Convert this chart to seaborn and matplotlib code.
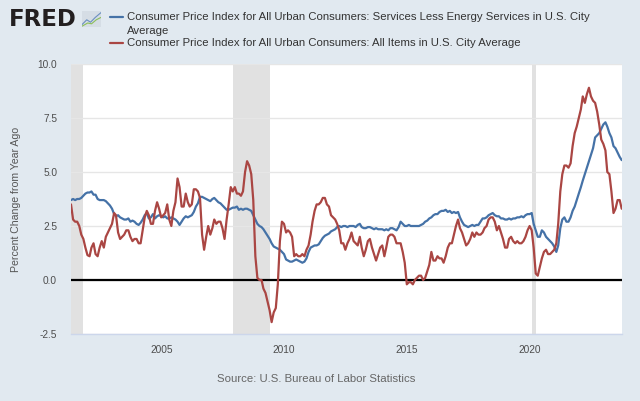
import matplotlib
matplotlib.use("Agg")
import matplotlib.pyplot as plt
from matplotlib.lines import Line2D
import seaborn as sns
import pandas as pd

# ---------------- data (monthly, May 2001 - Oct 2023) ----------------
start_month = "2001-05-01"
end_month = "2023-10-01"

cpi_all_items = [
    3.5, 2.8, 2.7, 2.7, 2.5, 2.1, 1.9, 1.5,                      # 2001 May-Dec
    1.15, 1.1, 1.5, 1.7, 1.2, 1.1, 1.5, 1.8, 1.5, 2.0, 2.2, 2.4,   # 2002
    2.6, 3.1, 3.0, 2.2, 1.9, 2.0, 2.1, 2.3, 2.3, 2.0, 1.8, 1.9,    # 2003
    1.9, 1.7, 1.7, 2.3, 2.9, 3.2, 3.0, 2.6, 2.6, 3.2, 3.6, 3.3,    # 2004
    2.9, 3.0, 3.1, 3.5, 2.8, 2.5, 3.2, 3.6, 4.7, 4.3, 3.4, 3.4,    # 2005
    4.0, 3.6, 3.4, 3.5, 4.2, 4.2, 4.1, 3.8, 2.1, 1.4, 2.0, 2.5,    # 2006
    2.1, 2.4, 2.8, 2.6, 2.7, 2.7, 2.4, 1.9, 2.8, 3.5, 4.3, 4.1,    # 2007
    4.3, 4.0, 4.0, 3.9, 4.1, 5.0, 5.5, 5.3, 4.9, 3.7, 1.1, 0.1,    # 2008
    0.0, 0.0, -0.4, -0.6, -1.0, -1.4, -1.95, -1.5, -1.3, -0.2, 1.8, 2.7,  # 2009
    2.6, 2.2, 2.3, 2.2, 2.0, 1.1, 1.2, 1.1, 1.1, 1.2, 1.1, 1.4,    # 2010
    1.6, 2.1, 2.7, 3.2, 3.5, 3.5, 3.6, 3.8, 3.8, 3.5, 3.4, 3.0,    # 2011
    2.9, 2.8, 2.6, 2.3, 1.7, 1.7, 1.4, 1.7, 1.9, 2.2, 1.8, 1.7,    # 2012
    1.6, 2.0, 1.5, 1.1, 1.4, 1.8, 1.9, 1.5, 1.2, 0.9, 1.2, 1.5,    # 2013
    1.6, 1.1, 1.5, 2.0, 2.1, 2.1, 2.0, 1.7, 1.7, 1.7, 1.3, 0.8,    # 2014
    -0.2, -0.1, -0.1, -0.2, 0.0, 0.1, 0.2, 0.2, 0.0, 0.1, 0.4, 0.7,  # 2015
    1.3, 0.9, 0.9, 1.1, 1.0, 1.0, 0.8, 1.1, 1.5, 1.7, 1.7, 2.1,    # 2016
    2.5, 2.8, 2.4, 2.2, 1.9, 1.6, 1.7, 1.9, 2.2, 2.0, 2.2, 2.1,    # 2017
    2.1, 2.2, 2.4, 2.5, 2.8, 2.9, 2.9, 2.7, 2.3, 2.5, 2.2, 1.9,    # 2018
    1.5, 1.5, 1.9, 2.0, 1.8, 1.7, 1.8, 1.7, 1.7, 1.8, 2.0, 2.3,    # 2019
    2.5, 2.3, 1.5, 0.3, 0.2, 0.6, 1.0, 1.3, 1.4, 1.2, 1.2, 1.3,    # 2020
    1.4, 1.7, 2.6, 4.1, 4.9, 5.3, 5.3, 5.2, 5.4, 6.2, 6.8, 7.1,    # 2021
    7.5, 7.9, 8.5, 8.2, 8.6, 8.9, 8.5, 8.3, 8.2, 7.8, 7.2, 6.5,    # 2022
    6.3, 6.0, 5.0, 4.9, 4.1, 3.1, 3.3, 3.7, 3.7, 3.3,              # 2023 Jan-Oct
]

cpi_services_less_energy = [
    3.7, 3.75, 3.7, 3.75, 3.75, 3.8, 3.9, 4.0,                              # 2001 May-Dec
    4.05, 4.05, 4.1, 3.95, 3.95, 3.75, 3.7, 3.7, 3.7, 3.65, 3.55, 3.45,     # 2002
    3.3, 3.05, 2.95, 3.0, 2.9, 2.85, 2.8, 2.8, 2.85, 2.7, 2.75, 2.7,        # 2003
    2.6, 2.55, 2.65, 2.8, 3.0, 3.1, 2.85, 2.9, 3.05, 2.85, 2.95, 3.0,       # 2004
    2.95, 2.9, 2.95, 2.85, 2.85, 2.9, 2.85, 2.8, 2.7, 2.55, 2.7, 2.85,      # 2005
    2.95, 2.9, 2.95, 3.0, 3.15, 3.4, 3.55, 3.85, 3.85, 3.8, 3.75, 3.7,      # 2006
    3.65, 3.75, 3.8, 3.7, 3.6, 3.55, 3.45, 3.35, 3.25, 3.25, 3.3, 3.35,     # 2007
    3.35, 3.4, 3.25, 3.3, 3.25, 3.3, 3.3, 3.25, 3.2, 3.0, 2.8, 2.6,         # 2008
    2.5, 2.45, 2.35, 2.2, 2.05, 1.9, 1.7, 1.55, 1.5, 1.45, 1.4, 1.3,        # 2009
    1.2, 0.95, 0.9, 0.85, 0.85, 0.9, 0.95, 0.9, 0.85, 0.8, 0.85, 1.0,       # 2010
    1.3, 1.5, 1.55, 1.6, 1.6, 1.65, 1.8, 1.95, 2.05, 2.1, 2.15, 2.25,       # 2011
    2.3, 2.35, 2.45, 2.5, 2.45, 2.5, 2.5, 2.45, 2.5, 2.5, 2.5, 2.45,        # 2012
    2.55, 2.6, 2.45, 2.4, 2.4, 2.45, 2.45, 2.4, 2.35, 2.4, 2.35, 2.35,      # 2013
    2.35, 2.3, 2.35, 2.3, 2.4, 2.4, 2.35, 2.3, 2.45, 2.7, 2.6, 2.5,         # 2014
    2.5, 2.55, 2.5, 2.5, 2.5, 2.5, 2.5, 2.55, 2.6, 2.7, 2.75, 2.85,         # 2015
    2.9, 3.0, 3.05, 3.05, 3.15, 3.2, 3.2, 3.25, 3.15, 3.2, 3.1, 3.15,       # 2016
    3.1, 3.15, 2.9, 2.7, 2.55, 2.5, 2.45, 2.5, 2.55, 2.5, 2.55, 2.55,       # 2017
    2.7, 2.85, 2.85, 2.9, 3.0, 3.05, 3.1, 3.0, 2.95, 2.95, 2.85, 2.85,      # 2018
    2.8, 2.8, 2.85, 2.8, 2.85, 2.85, 2.9, 2.9, 2.95, 2.9, 3.0, 3.05,        # 2019
    3.05, 3.1, 2.6, 2.3, 2.0, 2.0, 2.3, 2.2, 2.0, 1.9, 1.8, 1.7,            # 2020
    1.55, 1.3, 1.6, 2.4, 2.8, 2.9, 2.7, 2.7, 2.9, 3.2, 3.4, 3.7,            # 2021
    4.0, 4.3, 4.6, 4.9, 5.2, 5.5, 5.8, 6.1, 6.6, 6.7, 6.8, 7.0,             # 2022
    7.2, 7.3, 7.1, 6.8, 6.6, 6.2, 6.1, 5.9, 5.7, 5.55,                      # 2023 Jan-Oct
]

series_names = [
    "Consumer Price Index for All Urban Consumers: Services Less Energy Services in U.S. City Average",
    "Consumer Price Index for All Urban Consumers: All Items in U.S. City Average",
]
legend_lines_blue = [
    "Consumer Price Index for All Urban Consumers: Services Less Energy Services in U.S. City",
    "Average",
]
legend_line_red = "Consumer Price Index for All Urban Consumers: All Items in U.S. City Average"
recessions = [("2001-03-01", "2001-11-01"), ("2007-12-01", "2009-06-01"), ("2020-02-01", "2020-04-01")]
y_ticks = [-2.5, 0.0, 2.5, 5.0, 7.5, 10.0]
x_tick_years = [2005, 2010, 2015, 2020]
ylabel = "Percent Change from Year Ago"
source = "Source: U.S. Bureau of Labor Statistics"

# ---------------- build frame ----------------
dates = pd.date_range(start_month, end_month, freq="MS")
df = pd.concat([
    pd.DataFrame({"date": dates, "value": cpi_services_less_energy, "series": series_names[0]}),
    pd.DataFrame({"date": dates, "value": cpi_all_items, "series": series_names[1]}),
])

# ---------------- style ----------------
sns.set_style("white")
plt.rcParams["font.family"] = ["Liberation Sans", "DejaVu Sans"]

bg = "#e1e9f0"
blue = "#4572a7"
red = "#aa4643"
palette = {series_names[0]: blue, series_names[1]: red}

fig = plt.figure(figsize=(6.4, 4.01), dpi=100, facecolor=bg)
ax = fig.add_axes([71 / 640, 1 - 334 / 401, (621.7 - 71) / 640, (334 - 64) / 401])
ax.set_facecolor("white")

for s, e in recessions:
    ax.axvspan(pd.Timestamp(s), pd.Timestamp(e), color="#e1e1e1", lw=0, zorder=0.5)

for y in y_ticks:
    ax.axhline(y, color="#e6e6e6", lw=1.0, zorder=0.6)
ax.axhline(0, color="black", lw=1.6, zorder=3)

sns.lineplot(data=df, x="date", y="value", hue="series", palette=palette,
             hue_order=series_names, legend=False, lw=1.6, ax=ax, zorder=4)

ax.set_xlim(dates[0], dates[-1])
ax.set_ylim(-2.5, 10.0)
ax.set_yticks(y_ticks)
ax.set_yticklabels([f"{v:.1f}" for v in y_ticks])
ax.set_xticks([pd.Timestamp(f"{y}-01-01") for y in x_tick_years])
ax.set_xticklabels([str(y) for y in x_tick_years])
ax.tick_params(axis="y", length=0, pad=10, labelsize=7.3, labelcolor="#4d4d4d")
ax.tick_params(axis="x", length=5, width=1, color="#ccd6eb", pad=3, labelsize=7.3, labelcolor="#4d4d4d")
ax.set_xlabel("")
ax.set_ylabel(ylabel, fontsize=7.6, color="#555555", labelpad=12)
for side in ["top", "right", "left"]:
    ax.spines[side].set_visible(False)
ax.spines["bottom"].set_color("#ccd6eb")
ax.spines["bottom"].set_linewidth(1)

# ---------------- header / legend ----------------
fig.text(9 / 640, 1 - 19 / 401, "FRED", fontsize=16.5, fontweight="bold", color="#231f20",
         family="DejaVu Sans", va="center", ha="left")
icon = fig.add_axes([82 / 640, 1 - 27 / 401, 19 / 640, 16 / 401])
icon.set_facecolor("#d5dde5")
icon.set_xticks([]); icon.set_yticks([])
for sp in icon.spines.values():
    sp.set_visible(False)
icon.plot([0, 0.25, 0.45, 0.7, 1.0], [0.15, 0.45, 0.3, 0.6, 0.9], color="#6a8fc0", lw=0.8)
icon.plot([0, 0.3, 0.5, 0.75, 1.0], [0.05, 0.25, 0.2, 0.45, 0.6], color="#8cbf5a", lw=0.8)
icon.set_xlim(0, 1); icon.set_ylim(0, 1)

for ypix, col in [(17.3, blue), (43.3, red)]:
    fig.add_artist(Line2D([110 / 640, 123 / 640], [1 - ypix / 401] * 2, color=col, lw=1.6,
                          transform=fig.transFigure))
fig.text(127 / 640, 1 - 17.5 / 401, legend_lines_blue[0], fontsize=8.2, color="#333333",
         va="center", ha="left")
fig.text(127 / 640, 1 - 30.5 / 401, legend_lines_blue[1], fontsize=8.2, color="#333333",
         va="center", ha="left")
fig.text(127 / 640, 1 - 43.5 / 401, legend_line_red, fontsize=8.2, color="#333333",
         va="center", ha="left")

fig.text(316 / 640, 1 - 379 / 401, source, fontsize=8.2, color="#666666", ha="center", va="center")

fig.savefig("out.png", dpi=100, facecolor=bg)
